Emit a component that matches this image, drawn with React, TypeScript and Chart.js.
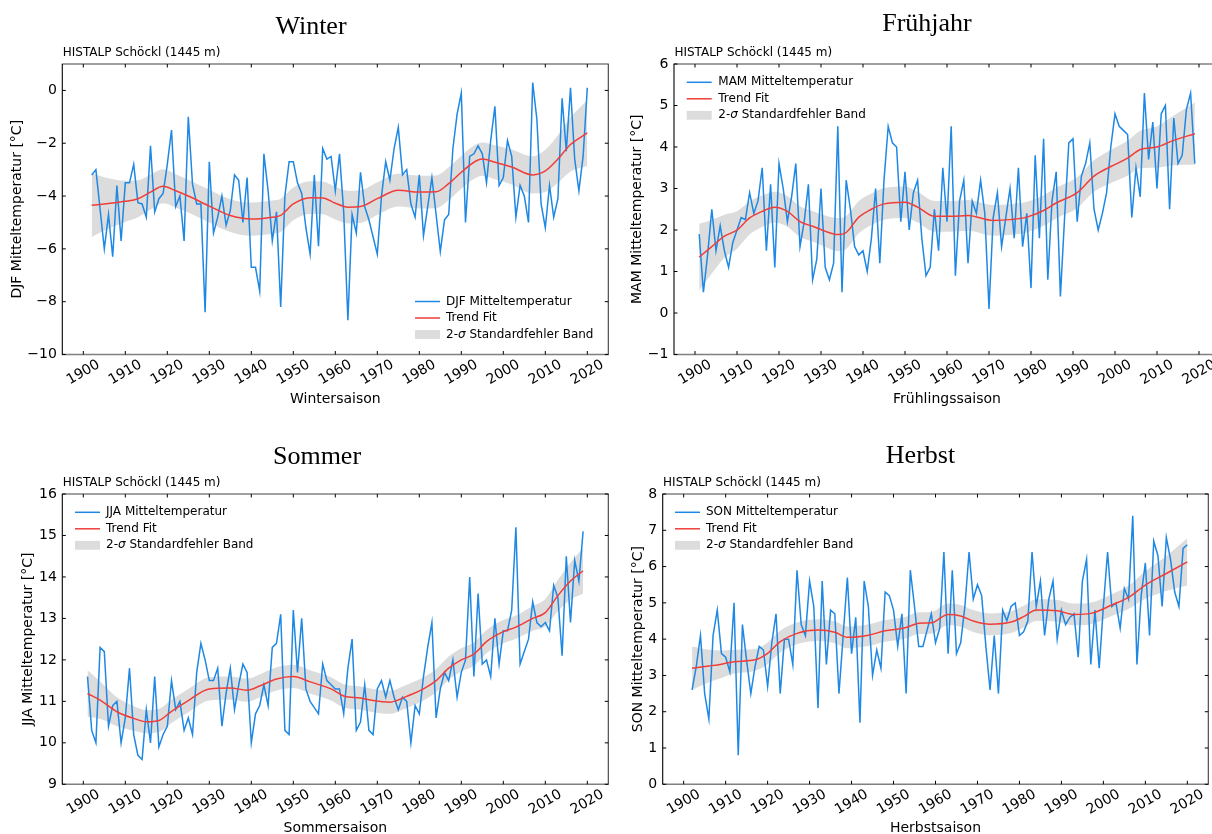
import React, { useEffect, useRef } from "react";
import { Chart, registerables } from "chart.js";

Chart.register(...registerables);

const SANS = '"DejaVu Sans", Verdana, sans-serif';
const SERIF = '"Liberation Serif", "Times New Roman", serif';
const BLUE = "#1e88e5";
const RED = "#ef3e3a";
const BAND = "#dcdcdc";

const STATION = "HISTALP Schöckl (1445 m)";
const X_MIN = 1895;
const X_MAX = 2025;
const xTickValues = [1900, 1910, 1920, 1930, 1940, 1950, 1960, 1970, 1980, 1990, 2000, 2010, 2020];

// ---- Winter (DJF), 1902–2020 ----
const winterFirstYear = 1902;
const winterTemp = [
  -3.2, -3.0, -4.5, -6.0, -4.7, -6.3, -3.6, -5.7,
  -3.5, -3.5, -2.8, -4.25, -4.3, -4.8, -2.1, -4.6, -4.1, -3.9,
  -2.8, -1.5, -4.4, -4.0, -5.7, -1.0, -3.55, -4.3, -4.3, -8.4,
  -2.7, -5.4, -4.8, -4.0, -5.1, -4.55, -3.2, -3.4, -5.0, -3.3,
  -6.7, -6.7, -7.6, -2.4, -3.8, -5.7, -4.6, -8.2, -4.0, -2.7,
  -2.7, -3.5, -3.9, -5.2, -6.2, -3.2, -5.9, -2.2, -2.6, -2.5,
  -3.8, -2.4, -4.6, -8.7, -4.7, -5.4, -3.1, -4.4, -4.9, -5.55,
  -6.2, -4.0, -2.7, -3.4, -2.2, -1.4, -3.2, -3.0, -4.3, -4.8,
  -3.2, -5.5, -4.4, -3.3, -4.7, -6.1, -4.9, -4.7, -2.2, -0.9,
  -0.1, -5.0, -2.5, -2.4, -2.1, -2.4, -3.5, -1.9, -0.6, -3.6,
  -3.3, -1.9, -2.5, -4.8, -3.6, -4.0, -5.0, 0.3, -1.1, -4.3,
  -5.2, -3.6, -4.8, -4.1, -0.3, -2.3, 0.1, -2.6, -3.8, -2.5,
  0.1,
];
const winterTrendYears = [1902, 1906, 1910, 1913, 1916, 1919, 1922, 1925, 1930, 1935, 1940, 1945, 1947, 1950, 1954, 1957, 1960, 1963, 1966, 1970, 1975, 1980, 1984, 1987, 1990, 1993, 1995, 1998, 2002, 2007, 2010, 2013, 2016, 2020];
const winterTrend = [-4.35, -4.28, -4.2, -4.1, -3.85, -3.63, -3.8, -4.0, -4.38, -4.74, -4.87, -4.8, -4.73, -4.3, -4.06, -4.07, -4.27, -4.42, -4.4, -4.1, -3.78, -3.85, -3.84, -3.53, -3.1, -2.72, -2.6, -2.72, -2.9, -3.2, -3.05, -2.6, -2.05, -1.61];
const winterBandLow = [-5.55, -5.23, -4.98, -4.8, -4.51, -4.27, -4.43, -4.62, -5.0, -5.36, -5.5, -5.43, -5.36, -4.92, -4.68, -4.69, -4.89, -5.04, -5.02, -4.72, -4.4, -4.47, -4.46, -4.15, -3.72, -3.35, -3.23, -3.36, -3.56, -3.9, -3.85, -3.5, -3.07, -2.86];
const winterBandHigh = [-3.15, -3.33, -3.42, -3.4, -3.19, -2.99, -3.17, -3.38, -3.76, -4.12, -4.24, -4.17, -4.1, -3.68, -3.44, -3.45, -3.65, -3.8, -3.78, -3.48, -3.16, -3.23, -3.22, -2.91, -2.48, -2.09, -1.97, -2.08, -2.24, -2.5, -2.25, -1.7, -1.03, -0.36];
const winterYTicks = [-10, -8, -6, -4, -2, 0];

// ---- Spring (MAM), 1901–2019 ----
const springFirstYear = 1901;
const springTemp = [
  1.9, 0.5, 1.4, 2.5, 1.5, 2.1, 1.5, 1.1, 1.7, 2.0,
  2.3, 2.25, 2.9, 2.4, 2.7, 3.5, 1.5, 3.1, 1.1, 3.6,
  3.0, 2.2, 2.8, 3.6, 1.6, 2.2, 3.1, 0.8, 1.3, 3.0,
  1.1, 0.8, 1.2, 4.5, 0.5, 3.2, 2.5, 1.6, 1.4, 1.5,
  1.0, 1.8, 3.0, 1.2, 3.2, 4.5, 4.1, 4.0, 2.2, 3.4,
  2.0, 2.9, 3.2, 1.8, 0.9, 1.1, 2.5, 1.5, 3.5, 2.2,
  4.5, 0.9, 2.7, 3.2, 1.2, 2.7, 2.4, 3.2, 2.4, 0.1,
  2.3, 2.9, 1.6, 2.3, 3.0, 1.8, 3.5, 1.6, 2.4, 0.6,
  3.8, 1.8, 4.2, 0.8, 2.7, 3.4, 0.4, 2.3, 4.1, 4.2,
  2.2, 3.3, 3.6, 4.1, 2.5, 2.0, 2.4, 2.9, 4.0, 4.8,
  4.5, 4.4, 4.3, 2.3, 3.5, 2.8, 5.3, 3.7, 4.6, 3.0,
  4.8, 5.0, 2.5, 4.7, 3.6, 3.8, 4.9, 5.3, 3.6,
];
const springTrendYears = [1901, 1904, 1907, 1910, 1913, 1916, 1919, 1922, 1925, 1928, 1931, 1934, 1936, 1939, 1942, 1945, 1950, 1953, 1957, 1961, 1965, 1971, 1975, 1979, 1983, 1986, 1991, 1995, 1999, 2003, 2006, 2010, 2014, 2019];
const springTrend = [1.35, 1.6, 1.85, 2.0, 2.29, 2.45, 2.55, 2.45, 2.2, 2.09, 1.97, 1.89, 1.94, 2.31, 2.5, 2.63, 2.67, 2.55, 2.33, 2.33, 2.35, 2.23, 2.25, 2.31, 2.47, 2.65, 2.9, 3.3, 3.53, 3.73, 3.94, 4.0, 4.16, 4.32];
const springBandLow = [0.55, 0.95, 1.33, 1.55, 1.89, 2.07, 2.18, 2.08, 1.83, 1.72, 1.59, 1.49, 1.54, 1.92, 2.12, 2.25, 2.29, 2.18, 1.96, 1.96, 1.98, 1.86, 1.88, 1.94, 2.1, 2.28, 2.53, 2.92, 3.13, 3.31, 3.49, 3.5, 3.56, 3.57];
const springBandHigh = [2.15, 2.25, 2.37, 2.45, 2.69, 2.83, 2.92, 2.82, 2.57, 2.46, 2.35, 2.29, 2.34, 2.7, 2.88, 3.01, 3.05, 2.92, 2.7, 2.7, 2.72, 2.6, 2.62, 2.68, 2.84, 3.02, 3.27, 3.68, 3.93, 4.15, 4.39, 4.5, 4.76, 5.07];
const springYTicks = [-1, 0, 1, 2, 3, 4, 5, 6];

// ---- Summer (JJA), 1901–2019 ----
const summerFirstYear = 1901;
const summerTemp = [
  11.6, 10.3, 10.0, 12.3, 12.2, 10.4, 10.9, 11.0, 10.0, 10.6,
  11.8, 10.2, 9.7, 9.6, 10.8, 10.0, 11.6, 9.9, 10.2, 10.4,
  11.5, 10.8, 11.0, 10.3, 10.6, 10.2, 11.7, 12.4, 12.0, 11.5,
  11.5, 11.8, 10.4, 11.2, 11.8, 10.8, 11.4, 11.9, 11.7, 10.0,
  10.7, 10.9, 11.4, 10.9, 12.3, 12.4, 13.1, 10.3, 10.2, 13.2,
  11.7, 13.0, 11.3, 11.0, 10.85, 10.7, 11.9, 11.5, 11.4, 11.3,
  11.3, 10.7, 11.8, 12.5, 10.3, 10.5, 11.4, 10.3, 10.2, 11.3,
  11.5, 11.1, 11.5, 11.1, 10.8, 11.1, 11.0, 10.0, 10.9, 10.7,
  11.6, 12.3, 12.9, 10.6, 11.3, 11.7, 11.5, 12.0, 11.1, 11.7,
  12.0, 14.0, 11.6, 13.6, 11.9, 12.0, 11.6, 13.0, 11.9, 12.7,
  12.7, 13.2, 15.2, 11.9, 12.2, 12.5, 13.4, 12.9, 12.8, 12.9,
  12.7, 13.8, 13.5, 12.1, 14.5, 12.9, 14.4, 13.9, 15.1,
];
const summerTrendYears = [1901, 1904, 1908, 1912, 1915, 1918, 1921, 1925, 1930, 1935, 1939, 1942, 1946, 1950, 1954, 1959, 1962, 1966, 1969, 1973, 1977, 1981, 1984, 1987, 1990, 1993, 1996, 2000, 2003, 2007, 2010, 2013, 2016, 2019];
const summerTrend = [11.19, 11.03, 10.75, 10.59, 10.51, 10.54, 10.76, 11.02, 11.3, 11.32, 11.27, 11.37, 11.54, 11.6, 11.47, 11.3, 11.13, 11.08, 11.02, 10.98, 11.12, 11.3, 11.5, 11.8, 12.0, 12.14, 12.44, 12.68, 12.79, 13.0, 13.14, 13.55, 13.9, 14.15];
const summerBandLow = [10.63, 10.58, 10.4, 10.29, 10.23, 10.26, 10.48, 10.74, 11.02, 11.04, 10.99, 11.09, 11.26, 11.32, 11.19, 11.02, 10.85, 10.8, 10.74, 10.7, 10.84, 11.02, 11.22, 11.52, 11.72, 11.86, 12.16, 12.4, 12.51, 12.7, 12.81, 13.17, 13.45, 13.6];
const summerBandHigh = [11.75, 11.48, 11.1, 10.89, 10.79, 10.82, 11.04, 11.3, 11.58, 11.6, 11.55, 11.65, 11.82, 11.88, 11.75, 11.58, 11.41, 11.36, 11.3, 11.26, 11.4, 11.58, 11.78, 12.08, 12.28, 12.42, 12.72, 12.96, 13.07, 13.3, 13.47, 13.93, 14.35, 14.7];
const summerYTicks = [9, 10, 11, 12, 13, 14, 15, 16];

// ---- Autumn (SON), 1902–2020 ----
const autumnFirstYear = 1902;
const autumnTemp = [
  2.6, 3.25, 4.1, 2.5, 1.8, 4.1, 4.8, 3.6,
  3.5, 3.1, 5.0, 0.8, 4.4, 3.4, 2.5, 3.25, 3.8, 3.7,
  2.7, 3.9, 4.7, 2.5, 4.0, 4.0, 3.3, 5.9, 4.4, 4.1,
  5.6, 4.9, 2.1, 5.6, 3.3, 4.8, 4.7, 2.5, 4.1, 5.7,
  3.6, 4.6, 1.7, 5.6, 4.9, 3.0, 3.7, 3.2, 5.3, 5.2,
  4.8, 3.8, 4.7, 2.5, 5.9, 4.9, 3.8, 3.8, 4.25, 4.7,
  3.9, 4.3, 6.4, 3.6, 5.9, 3.6, 3.9, 4.9, 6.4, 5.1,
  5.5, 5.2, 3.8, 2.6, 4.1, 2.5, 4.8, 4.5, 4.9, 5.0,
  4.1, 4.2, 4.5, 6.4, 4.9, 5.6, 4.1, 5.1, 5.6, 4.0,
  4.8, 4.4, 4.6, 4.7, 3.5, 5.6, 6.2, 3.3, 4.8, 3.2,
  4.9, 6.4, 4.9, 5.0, 4.3, 5.4, 5.1, 7.4, 3.3, 5.2,
  6.1, 4.1, 6.7, 6.3, 4.9, 6.8, 6.2, 5.3, 4.9, 6.5,
  6.6,
];
const autumnTrendYears = [1902, 1906, 1909, 1912, 1917, 1920, 1923, 1927, 1932, 1936, 1939, 1944, 1948, 1953, 1956, 1959, 1963, 1966, 1969, 1973, 1978, 1981, 1984, 1989, 1993, 1997, 2002, 2006, 2010, 2015, 2020];
const autumnTrend = [3.2, 3.26, 3.31, 3.38, 3.43, 3.61, 3.93, 4.16, 4.25, 4.19, 4.05, 4.11, 4.23, 4.32, 4.44, 4.45, 4.68, 4.64, 4.5, 4.41, 4.47, 4.62, 4.8, 4.78, 4.68, 4.71, 4.94, 5.15, 5.49, 5.81, 6.13];
const autumnBandLow = [2.6, 2.81, 2.93, 3.05, 3.13, 3.31, 3.63, 3.86, 3.95, 3.89, 3.75, 3.81, 3.93, 4.02, 4.14, 4.15, 4.38, 4.34, 4.2, 4.11, 4.17, 4.32, 4.5, 4.48, 4.38, 4.41, 4.64, 4.83, 5.11, 5.33, 5.48];
const autumnBandHigh = [3.8, 3.71, 3.69, 3.71, 3.73, 3.91, 4.23, 4.46, 4.55, 4.49, 4.35, 4.41, 4.53, 4.62, 4.74, 4.75, 4.98, 4.94, 4.8, 4.71, 4.77, 4.92, 5.1, 5.08, 4.98, 5.01, 5.24, 5.47, 5.87, 6.29, 6.78];
const autumnYTicks = [0, 1, 2, 3, 4, 5, 6, 7, 8];

type Box = { left: number; top: number; width: number; height: number };
type Area = { left: number; top: number; right: number; bottom: number };

type Panel = {
  id: string;
  title: string;
  titleX: number;
  titleBaseline: number;
  box: Box; // canvas placement on the page
  area: Area; // plot area on the page
  yMin: number;
  yMax: number;
  yTicks: number[];
  yLabel: string;
  yLabelX: number;
  xLabel: string;
  seriesLabel: string;
  legend: { lineX: number; textX: number; rowY: number };
  firstYear: number;
  temps: number[];
  trendYears: number[];
  trend: number[];
  bandLow: number[];
  bandHigh: number[];
};

const panels: Panel[] = [
  {
    id: "djf", title: "Winter", titleX: 311, titleBaseline: 34.3,
    box: { left: 0, top: 0, width: 612, height: 420 },
    area: { left: 62.3, top: 64, right: 608.3, bottom: 354.5 },
    yMin: -10, yMax: 1, yTicks: winterYTicks,
    yLabel: "DJF Mitteltemperatur [°C]", yLabelX: 17.5,
    xLabel: "Wintersaison", seriesLabel: "DJF Mitteltemperatur",
    legend: { lineX: 415, textX: 446, rowY: 301.5 },
    firstYear: winterFirstYear, temps: winterTemp,
    trendYears: winterTrendYears, trend: winterTrend, bandLow: winterBandLow, bandHigh: winterBandHigh,
  },
  {
    id: "mam", title: "Frühjahr", titleX: 927, titleBaseline: 31,
    box: { left: 612, top: 0, width: 620, height: 420 },
    area: { left: 674, top: 64, right: 1220, bottom: 354.5 },
    yMin: -1, yMax: 6, yTicks: springYTicks,
    yLabel: "MAM Mitteltemperatur [°C]", yLabelX: 637.5,
    xLabel: "Frühlingssaison", seriesLabel: "MAM Mitteltemperatur",
    legend: { lineX: 686.7, textX: 718.3, rowY: 82.3 },
    firstYear: springFirstYear, temps: springTemp,
    trendYears: springTrendYears, trend: springTrend, bandLow: springBandLow, bandHigh: springBandHigh,
  },
  {
    id: "jja", title: "Sommer", titleX: 317, titleBaseline: 464,
    box: { left: 0, top: 420, width: 612, height: 414 },
    area: { left: 62.3, top: 494, right: 608.3, bottom: 784.3 },
    yMin: 9, yMax: 16, yTicks: summerYTicks,
    yLabel: "JJA Mitteltemperatur [°C]", yLabelX: 28.3,
    xLabel: "Sommersaison", seriesLabel: "JJA Mitteltemperatur",
    legend: { lineX: 75, textX: 106, rowY: 512.3 },
    firstYear: summerFirstYear, temps: summerTemp,
    trendYears: summerTrendYears, trend: summerTrend, bandLow: summerBandLow, bandHigh: summerBandHigh,
  },
  {
    id: "son", title: "Herbst", titleX: 920.5, titleBaseline: 463,
    box: { left: 612, top: 420, width: 600, height: 414 },
    area: { left: 662.7, top: 494, right: 1208.3, bottom: 784.3 },
    yMin: 0, yMax: 8, yTicks: autumnYTicks,
    yLabel: "SON Mitteltemperatur [°C]", yLabelX: 638,
    xLabel: "Herbstsaison", seriesLabel: "SON Mitteltemperatur",
    legend: { lineX: 675, textX: 706, rowY: 512.3 },
    firstYear: autumnFirstYear, temps: autumnTemp,
    trendYears: autumnTrendYears, trend: autumnTrend, bandLow: autumnBandLow, bandHigh: autumnBandHigh,
  },
];

const fmtTick = (v: number) => (v < 0 ? "\u2212" + Math.abs(v) : String(v));

// Frame, inward ticks, tick labels, titles and legend around the plot area.
function decorPlugin(p: Panel) {
  return {
    id: "decor-" + p.id,
    afterDraw(chart: any) {
      const ctx: CanvasRenderingContext2D = chart.ctx;
      const { left, right, top, bottom } = chart.chartArea;
      const xs = chart.scales.x;
      const ys = chart.scales.y;
      const ox = p.box.left;
      const oy = p.box.top;

      const seg = (x1: number, y1: number, x2: number, y2: number) => {
        ctx.beginPath();
        ctx.moveTo(x1, y1);
        ctx.lineTo(x2, y2);
        ctx.stroke();
      };
      const text = (
        s: string, x: number, y: number, font: string,
        align: CanvasTextAlign, baseline: CanvasTextBaseline, rot = 0,
      ) => {
        ctx.save();
        ctx.translate(x, y);
        if (rot) ctx.rotate(rot);
        ctx.font = font;
        ctx.textAlign = align;
        ctx.textBaseline = baseline;
        ctx.fillStyle = "#000";
        ctx.fillText(s, 0, 0);
        ctx.restore();
      };

      ctx.save();
      // frame
      ctx.lineWidth = 1.6;
      ctx.strokeStyle = "#808080";
      seg(left - 0.5, top, right + 0.5, top);
      seg(left - 0.5, bottom, right + 0.5, bottom);
      ctx.lineWidth = 1.1;
      ctx.strokeStyle = "#000";
      seg(left, top, left, bottom);
      ctx.strokeStyle = "#3a3a3a";
      seg(right, top, right, bottom);

      // inward ticks on all four sides
      ctx.strokeStyle = "#000";
      ctx.lineWidth = 1;
      for (const t of xTickValues) {
        const x = xs.getPixelForValue(t);
        seg(x, bottom, x, bottom - 3.5);
        seg(x, top, x, top + 3.5);
      }
      for (const t of p.yTicks) {
        const y = ys.getPixelForValue(t);
        seg(left, y, left + 3.5, y);
        seg(right, y, right - 3.5, y);
      }

      // tick labels
      const tickFont = `14px ${SANS}`;
      for (const t of p.yTicks) {
        text(fmtTick(t), left - 5.5, ys.getPixelForValue(t), tickFont, "right", "middle");
      }
      for (const t of xTickValues) {
        text(String(t), xs.getPixelForValue(t), bottom + 18, tickFont, "center", "middle", -Math.PI / 6);
      }

      // axis titles
      const labelFont = `14px ${SANS}`;
      text(p.xLabel, (left + right) / 2, bottom + 48, labelFont, "center", "alphabetic");
      text(p.yLabel, p.yLabelX - ox, (top + bottom) / 2, labelFont, "center", "middle", -Math.PI / 2);

      // panel title and station line
      text(p.title, p.titleX - ox, p.titleBaseline - oy, `26px ${SERIF}`, "center", "alphabetic");
      text(STATION, left + 0.4, top - 8, `12px ${SANS}`, "left", "alphabetic");

      // legend
      const lx = p.legend.lineX - ox;
      const tx = p.legend.textX - ox;
      const r0 = p.legend.rowY - oy;
      const dy = 16.5;
      ctx.lineWidth = 1.5;
      ctx.strokeStyle = BLUE;
      seg(lx, r0, lx + 25, r0);
      ctx.strokeStyle = RED;
      seg(lx, r0 + dy, lx + 25, r0 + dy);
      ctx.fillStyle = BAND;
      ctx.fillRect(lx, r0 + 2 * dy - 4.4, 25, 8.8);

      const legFont = `12px ${SANS}`;
      text(p.seriesLabel, tx, r0, legFont, "left", "middle");
      text("Trend Fit", tx, r0 + dy, legFont, "left", "middle");
      ctx.font = legFont;
      let cx = tx;
      text("2-", cx, r0 + 2 * dy, legFont, "left", "middle");
      cx += ctx.measureText("2-").width;
      const sigFont = `italic 12px ${SANS}`;
      text("σ", cx, r0 + 2 * dy, sigFont, "left", "middle");
      ctx.font = sigFont;
      cx += ctx.measureText("σ").width;
      text(" Standardfehler Band", cx, r0 + 2 * dy, legFont, "left", "middle");
      ctx.restore();
    },
  };
}

function buildConfig(p: Panel): any {
  const pts = (xs: number[], ys: number[]) => xs.map((x, i) => ({ x, y: ys[i] }));
  const tempPts = p.temps.map((y, i) => ({ x: p.firstYear + i, y }));
  const area = p.area;
  return {
    type: "line",
    data: {
      datasets: [
        {
          label: "band-low",
          data: pts(p.trendYears, p.bandLow),
          borderColor: "rgba(0,0,0,0)",
          borderWidth: 0,
          pointRadius: 0,
          fill: false,
          cubicInterpolationMode: "monotone",
          order: 3,
        },
        {
          label: "2-σ Standardfehler Band",
          data: pts(p.trendYears, p.bandHigh),
          borderColor: "rgba(0,0,0,0)",
          borderWidth: 0,
          backgroundColor: BAND,
          pointRadius: 0,
          fill: "-1",
          cubicInterpolationMode: "monotone",
          order: 2,
        },
        {
          label: p.seriesLabel,
          data: tempPts,
          borderColor: BLUE,
          borderWidth: 1.5,
          pointRadius: 0,
          tension: 0,
          fill: false,
          order: 1,
        },
        {
          label: "Trend Fit",
          data: pts(p.trendYears, p.trend),
          borderColor: RED,
          borderWidth: 1.5,
          pointRadius: 0,
          fill: false,
          cubicInterpolationMode: "monotone",
          order: 0,
        },
      ],
    },
    options: {
      animation: false,
      responsive: false,
      maintainAspectRatio: false,
      devicePixelRatio: 1,
      events: [],
      layout: {
        padding: {
          left: area.left - p.box.left,
          top: area.top - p.box.top,
          right: p.box.left + p.box.width - area.right,
          bottom: p.box.top + p.box.height - area.bottom,
        },
      },
      scales: {
        x: { type: "linear", min: X_MIN, max: X_MAX, display: false },
        y: { type: "linear", min: p.yMin, max: p.yMax, display: false },
      },
      plugins: {
        legend: { display: false },
        tooltip: { enabled: false },
        title: { display: false },
      },
    },
    plugins: [decorPlugin(p)],
  };
}

function SeasonChart({ panel }: { panel: Panel }) {
  const ref = useRef<HTMLCanvasElement | null>(null);
  useEffect(() => {
    if (!ref.current) return;
    const chart = new Chart(ref.current, buildConfig(panel));
    return () => chart.destroy();
  }, [panel]);
  const b = panel.box;
  return (
    <canvas
      ref={ref}
      width={b.width}
      height={b.height}
      style={{ position: "absolute", left: b.left, top: b.top, width: b.width, height: b.height }}
    />
  );
}

export default function App() {
  return (
    <div
      style={{
        position: "absolute",
        left: 0,
        top: 0,
        width: 1212,
        height: 834,
        overflow: "hidden",
        background: "#fff",
      }}
    >
      {panels.map((p) => (
        <SeasonChart key={p.id} panel={p} />
      ))}
    </div>
  );
}
